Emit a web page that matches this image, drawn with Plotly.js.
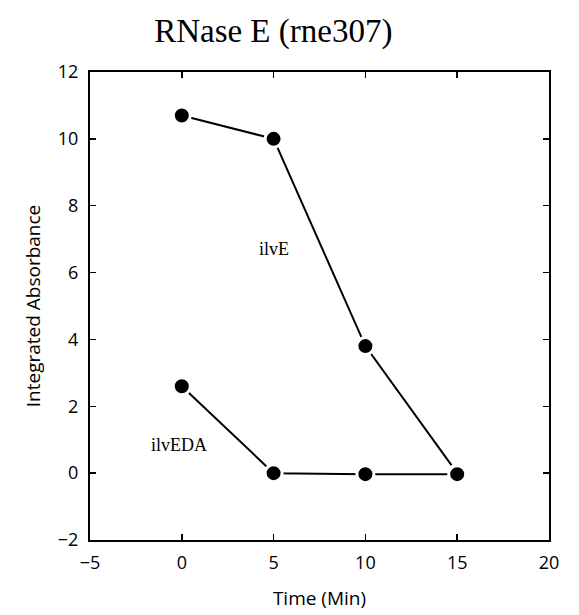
<!DOCTYPE html>
<html><head><meta charset="utf-8">
<script src="https://cdn.plot.ly/plotly-3.0.1.min.js"></script>
<style>html,body{margin:0;padding:0;background:#fff}</style>
</head><body>
<div id="chart" style="width:579px;height:615px"></div>
<script>
var time = [0, 5, 10, 15];
var ilvE = [10.7, 10.0, 3.8, 0.0];
var ilvEDA = [2.6, 0.0, -0.03, -0.03];
var labels = {ilvE: 'ilvE', ilvEDA: 'ilvEDA'};
var labelPos = {ilvE: [5.0, 6.7], ilvEDA: [-0.15, 0.84]};

function trace(y) {
  return {x: time, y: y, mode: 'lines+markers', type: 'scatter',
    line: {color: '#000', width: 2},
    marker: {color: '#000', size: 17, line: {color: '#fff', width: 3}},
    showlegend: false, cliponaxis: false};
}
var sans = 'Open Sans, Noto Sans, sans-serif';
var axisCommon = {showgrid: false, zeroline: false, showline: true, linecolor: '#000', linewidth: 2,
  mirror: 'ticks', ticks: 'inside', ticklen: 6, tickwidth: 1.5, tickcolor: '#000',
  tickfont: {family: sans, size: 18, color: '#000'}};
var layout = {
  width: 579, height: 615,
  margin: {l: 90, r: 30, t: 72, b: 75},
  paper_bgcolor: '#fff', plot_bgcolor: '#fff',
  title: {text: 'RNase E (rne307)', x: 0.472, xanchor: 'center', y: 0.95, yanchor: 'middle',
    font: {family: 'Liberation Serif, Times New Roman, serif', size: 33, color: '#000'}},
  xaxis: Object.assign({}, axisCommon, {range: [-5, 20], tickvals: [-5, 0, 5, 10, 15, 20],
    ticktext: ['\u22125', '0', '5', '10', '15', '20'], ticklabelstandoff: 5,
    title: {text: 'Time (Min)', standoff: 19, font: {family: sans, size: 19, color: '#000'}}}),
  yaxis: Object.assign({}, axisCommon, {range: [-2, 12], tickvals: [-2, 0, 2, 4, 6, 8, 10, 12],
    ticktext: ['\u22122', '0', '2', '4', '6', '8', '10', '12'], ticklabelstandoff: 6,
    title: {text: 'Integrated Absorbance', standoff: 12, font: {family: sans, size: 19, color: '#000'}}}),
  annotations: [
    {x: labelPos.ilvE[0], y: labelPos.ilvE[1], text: labels.ilvE, showarrow: false,
      font: {family: 'Liberation Serif, Times New Roman, serif', size: 18, color: '#000'}},
    {x: labelPos.ilvEDA[0], y: labelPos.ilvEDA[1], text: labels.ilvEDA, showarrow: false,
      font: {family: 'Liberation Serif, Times New Roman, serif', size: 18, color: '#000'}}
  ]
};
Plotly.newPlot('chart', [trace(ilvE), trace(ilvEDA)], layout, {displayModeBar: false, staticPlot: true});
</script>
</body></html>
